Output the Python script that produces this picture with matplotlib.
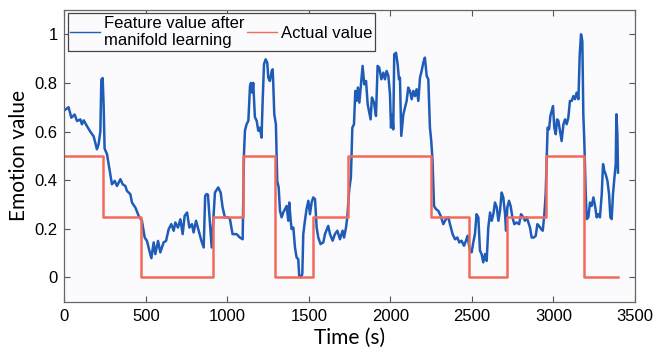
import matplotlib.pyplot as plt

# Actual emotion value (step changes at these times)
actual_t = [0, 234, 469, 909, 1097, 1291, 1526, 1741, 2248, 2483, 2713, 2952, 3189, 3395]
actual_v = [0.5, 0.25, 0, 0.25, 0.5, 0, 0.25, 0.5, 0.25, 0, 0.25, 0.5, 0, 0]

# Feature value after manifold learning
feat_t = [5, 25, 42, 62, 77, 97, 107, 118, 138, 158, 179, 189, 199, 209, 220, 226, 234, 240,
          246, 261, 271, 281, 291, 308, 322, 343, 357, 373, 383, 404, 414, 435, 455, 475, 492,
          506, 521, 533, 547, 557, 574, 588, 608, 623, 639, 655, 670, 680, 696, 711, 725, 737,
          752, 766, 782, 792, 807, 823, 840, 854, 863, 872, 880, 903, 923, 943, 958, 970, 984,
          1005, 1015, 1031, 1056, 1076, 1093, 1101, 1107, 1117, 1128, 1138, 1144, 1152, 1158,
          1168, 1179, 1189, 1199, 1209, 1215, 1224, 1234, 1244, 1250, 1260, 1271, 1277, 1281,
          1287, 1297, 1305, 1314, 1322, 1332, 1342, 1353, 1363, 1373, 1379, 1387, 1393, 1404,
          1414, 1424, 1434, 1440, 1451, 1459, 1465, 1475, 1485, 1496, 1506, 1516, 1526, 1537,
          1547, 1557, 1571, 1588, 1598, 1618, 1629, 1645, 1659, 1674, 1690, 1706, 1715, 1727,
          1735, 1747, 1757, 1766, 1776, 1784, 1792, 1800, 1809, 1819, 1829, 1839, 1850, 1860,
          1868, 1878, 1886, 1899, 1911, 1921, 1931, 1944, 1956, 1966, 1976, 1987, 1997, 2003,
          2011, 2017, 2023, 2034, 2044, 2052, 2058, 2066, 2079, 2089, 2099, 2109, 2119, 2130,
          2140, 2150, 2160, 2171, 2181, 2191, 2201, 2211, 2222, 2232, 2242, 2250, 2258, 2267,
          2279, 2293, 2308, 2324, 2340, 2355, 2365, 2381, 2396, 2410, 2422, 2436, 2451, 2463,
          2473, 2484, 2498, 2508, 2518, 2528, 2539, 2549, 2559, 2569, 2580, 2590, 2600, 2611,
          2621, 2631, 2641, 2652, 2662, 2672, 2682, 2692, 2703, 2709, 2717, 2727, 2737, 2748,
          2760, 2774, 2789, 2801, 2815, 2825, 2836, 2846, 2856, 2866, 2879, 2891, 2901, 2911,
          2924, 2934, 2944, 2952, 2958, 2964, 2973, 2981, 2989, 2997, 3005, 3014, 3022, 3030,
          3040, 3050, 3061, 3071, 3081, 3091, 3101, 3112, 3122, 3132, 3142, 3153, 3161, 3169,
          3177, 3183, 3189, 3198, 3204, 3214, 3224, 3234, 3245, 3255, 3265, 3275, 3285, 3296,
          3304, 3312, 3320, 3331, 3341, 3349, 3357, 3365, 3374, 3382, 3386, 3392, 3396]
feat_v = [0.69, 0.70, 0.657, 0.67, 0.643, 0.65, 0.63, 0.646, 0.622, 0.60, 0.58, 0.554, 0.527,
          0.547, 0.60, 0.814, 0.82, 0.71, 0.53, 0.506, 0.465, 0.424, 0.383, 0.397, 0.376, 0.404,
          0.383, 0.376, 0.356, 0.342, 0.308, 0.287, 0.253, 0.233, 0.164, 0.150, 0.109, 0.079,
          0.144, 0.096, 0.150, 0.103, 0.144, 0.150, 0.198, 0.219, 0.192, 0.226, 0.205, 0.239,
          0.178, 0.253, 0.267, 0.205, 0.219, 0.185, 0.233, 0.192, 0.150, 0.123, 0.335, 0.343,
          0.34, 0.123, 0.349, 0.37, 0.349, 0.288, 0.247, 0.247, 0.24, 0.178, 0.178, 0.164, 0.157,
          0.507, 0.603, 0.63, 0.644, 0.787, 0.80, 0.76, 0.80, 0.66, 0.644, 0.603, 0.616, 0.575,
          0.712, 0.877, 0.897, 0.883, 0.822, 0.808, 0.849, 0.856, 0.794, 0.671, 0.63, 0.397,
          0.37, 0.274, 0.247, 0.267, 0.281, 0.294, 0.233, 0.308, 0.240, 0.199, 0.205, 0.123,
          0.082, 0.075, 0.006, 0.0, 0.014, 0.178, 0.233, 0.281, 0.315, 0.26, 0.308, 0.329, 0.322,
          0.205, 0.164, 0.137, 0.144, 0.178, 0.212, 0.178, 0.151, 0.178, 0.192, 0.157, 0.192,
          0.164, 0.205, 0.247, 0.363, 0.411, 0.616, 0.63, 0.767, 0.726, 0.781, 0.719, 0.794,
          0.87, 0.794, 0.808, 0.712, 0.685, 0.65, 0.74, 0.719, 0.664, 0.87, 0.863, 0.815, 0.842,
          0.815, 0.849, 0.829, 0.753, 0.616, 0.671, 0.609, 0.918, 0.924, 0.876, 0.815, 0.822,
          0.582, 0.671, 0.698, 0.726, 0.781, 0.767, 0.733, 0.767, 0.746, 0.774, 0.726, 0.822,
          0.849, 0.883, 0.904, 0.829, 0.815, 0.616, 0.562, 0.479, 0.294, 0.281, 0.274, 0.253,
          0.219, 0.240, 0.247, 0.219, 0.178, 0.157, 0.164, 0.144, 0.151, 0.130, 0.151, 0.171,
          0.123, 0.103, 0.144, 0.178, 0.26, 0.247, 0.110, 0.096, 0.062, 0.096, 0.068, 0.205,
          0.267, 0.233, 0.26, 0.308, 0.288, 0.233, 0.274, 0.349, 0.329, 0.26, 0.192, 0.288,
          0.315, 0.294, 0.247, 0.219, 0.226, 0.219, 0.26, 0.247, 0.233, 0.247, 0.226, 0.205,
          0.164, 0.164, 0.171, 0.219, 0.212, 0.199, 0.192, 0.26, 0.342, 0.479, 0.616, 0.609,
          0.664, 0.685, 0.705, 0.616, 0.589, 0.65, 0.644, 0.602, 0.561, 0.63, 0.65, 0.63, 0.657,
          0.726, 0.726, 0.746, 0.733, 0.76, 0.733, 0.918, 1.0, 0.972, 0.671, 0.562, 0.342, 0.240,
          0.247, 0.308, 0.294, 0.329, 0.294, 0.247, 0.26, 0.247, 0.342, 0.466, 0.438, 0.425,
          0.397, 0.342, 0.247, 0.240, 0.342, 0.411, 0.466, 0.671, 0.589, 0.431]

x_ticks = [0, 500, 1000, 1500, 2000, 2500, 3000, 3500]
y_ticks = [0, 0.2, 0.4, 0.6, 0.8, 1]
y_tick_labels = ['0', '0.2', '0.4', '0.6', '0.8', '1']

plt.rcParams['font.family'] = ['Liberation Sans', 'DejaVu Sans']

fig = plt.figure(figsize=(6.67, 3.53), dpi=100)
fig.patch.set_facecolor('white')
ax = fig.add_axes([0.0967, 0.1453, 0.8553, 0.8264])
ax.set_facecolor('#fbfbfe')

ax.plot(feat_t, feat_v, color='#1f5cb8', linewidth=1.8, label='Feature value after\nmanifold learning')
ax.step(actual_t, actual_v, where='post', color='#f26a5a', linewidth=1.8, label='Actual value')

ax.set_xlim(0, 3500)
ax.set_ylim(-0.1, 1.1)
ax.set_xticks(x_ticks)
ax.set_yticks(y_ticks)
ax.set_yticklabels(y_tick_labels)
ax.tick_params(direction='in', length=4, width=0.8, top=True, right=True,
               labelsize=12, colors='#555555', labelcolor='black', pad=5)
for s in ax.spines.values():
    s.set_color('#666666')
    s.set_linewidth(0.9)

ax.set_xlabel('Time (s)', fontsize=15, family=['Lato', 'DejaVu Sans'], labelpad=3)
ax.set_ylabel('Emotion value', fontsize=15, family=['Lato', 'DejaVu Sans'], labelpad=4)

leg = ax.legend(loc='upper left', ncol=2, fontsize=12, handlelength=1.8, handletextpad=0.2,
                columnspacing=0.2, borderaxespad=0.2, borderpad=0.15, fancybox=False,
                frameon=True, labelspacing=0.1)
leg.get_frame().set_edgecolor('#444444')
leg.get_frame().set_linewidth(0.9)
leg.get_frame().set_facecolor('#fbfbfe')
leg.get_frame().set_alpha(1)
for line in leg.get_lines():
    line.set_linewidth(1.0)

fig.savefig('out.png', dpi=100)
